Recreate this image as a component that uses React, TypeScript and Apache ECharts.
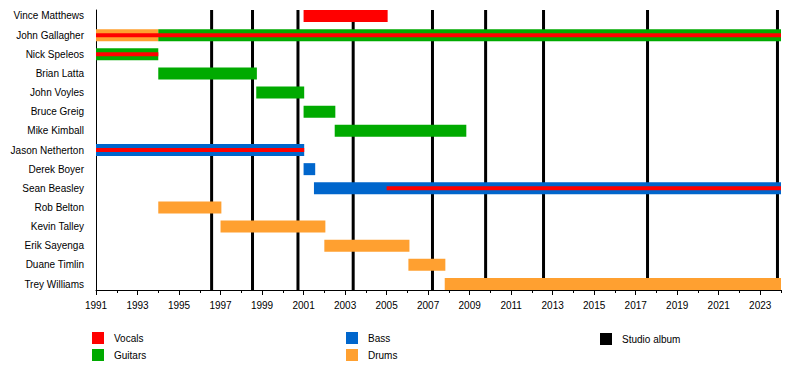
import React, { useEffect, useRef } from "react";
import * as echarts from "echarts";

const members = [
  "Vince Matthews",
  "John Gallagher",
  "Nick Speleos",
  "Brian Latta",
  "John Voyles",
  "Bruce Greig",
  "Mike Kimball",
  "Jason Netherton",
  "Derek Boyer",
  "Sean Beasley",
  "Rob Belton",
  "Kevin Talley",
  "Erik Sayenga",
  "Duane Timlin",
  "Trey Williams",
];

const roles = ["Vocals", "Guitars", "Bass", "Drums"];

const startYear = 1991;
const endYear = 2024;

// [member, role, start, end] — main (thick) bars
const mainBars: [string, string, number, number][] = [
  ["Vince Matthews", "Vocals", 2001.0, 2005.05],
  ["John Gallagher", "Drums", 1991.0, 1994.0],
  ["John Gallagher", "Guitars", 1994.0, 2024.0],
  ["Nick Speleos", "Guitars", 1991.0, 1994.0],
  ["Brian Latta", "Guitars", 1994.0, 1998.75],
  ["John Voyles", "Guitars", 1998.72, 2001.03],
  ["Bruce Greig", "Guitars", 2001.0, 2002.53],
  ["Mike Kimball", "Guitars", 2002.5, 2008.84],
  ["Jason Netherton", "Bass", 1991.0, 2001.03],
  ["Derek Boyer", "Bass", 2001.0, 2001.56],
  ["Sean Beasley", "Bass", 2001.5, 2024.0],
  ["Rob Belton", "Drums", 1994.0, 1997.04],
  ["Kevin Talley", "Drums", 1997.0, 2002.05],
  ["Erik Sayenga", "Drums", 2002.0, 2006.1],
  ["Duane Timlin", "Drums", 2006.05, 2007.83],
  ["Trey Williams", "Drums", 2007.8, 2024.0],
];

// [member, start, end] — secondary vocals (thin) lines
const vocalLines: [string, number, number][] = [
  ["John Gallagher", 1991.0, 2024.0],
  ["Nick Speleos", 1991.0, 1994.0],
  ["Jason Netherton", 1991.0, 2001.03],
  ["Sean Beasley", 2005.0, 2024.0],
];

const albumYears = [
  1996.57, 1998.54, 2000.73, 2003.39, 2007.21, 2009.77, 2012.56, 2017.57, 2023.83,
];

const roleColors: Record<string, string> = {
  Vocals: "#FF0000",
  Guitars: "#00AA00",
  Bass: "#0066CC",
  Drums: "#FFA030",
};

const FONT = "'Liberation Sans', Arial, sans-serif";
const Y_MIN = -0.3125;
const Y_MAX = members.length - 1 + 0.3125;

export default function App() {
  const ref = useRef<HTMLDivElement>(null);

  useEffect(() => {
    if (!ref.current) return;
    const chart = echarts.init(ref.current, null, { renderer: "svg" });

    const barData = mainBars.map(([m, r, s, e]) => [
      s,
      e,
      members.indexOf(m),
      roles.indexOf(r),
    ]);
    const vocalData = vocalLines.map(([m, s, e]) => [s, e, members.indexOf(m)]);

    const legendItems = [
      { label: "Vocals", color: roleColors.Vocals, x: 92, y: 332 },
      { label: "Guitars", color: roleColors.Guitars, x: 92, y: 349 },
      { label: "Bass", color: roleColors.Bass, x: 346, y: 332 },
      { label: "Drums", color: roleColors.Drums, x: 346, y: 349 },
      { label: "Studio album", color: "#000000", x: 600, y: 333 },
    ];

    const graphic: any[] = [];
    legendItems.forEach((it) => {
      graphic.push({
        type: "rect",
        left: it.x,
        top: it.y,
        shape: { width: 12, height: 12 },
        style: { fill: it.color },
      });
      graphic.push({
        type: "text",
        left: it.x + 22,
        top: it.y + 1,
        style: {
          text: it.label,
          fill: "#000",
          font: `10px ${FONT}`,
        },
      });
    });

    const plotGrid = { left: 96, right: 19, top: 10, height: 280 };
    const hiddenY = (gi: number) => ({
      gridIndex: gi,
      type: "value",
      show: false,
    });

    const option: any = {
      animation: false,
      backgroundColor: "#fff",
      textStyle: { fontFamily: FONT },
      grid: [
        { ...plotGrid },
        { left: 96, right: 19, top: 6.41, height: 287.2 },
        { ...plotGrid },
        { ...plotGrid },
      ],
      xAxis: [
        {
          gridIndex: 0,
          type: "value",
          position: "bottom",
          min: startYear,
          max: endYear,
          axisLine: { show: true, onZero: false, lineStyle: { color: "#000", width: 1 } },
          axisTick: { show: false },
          axisLabel: { show: false },
          splitLine: { show: false },
        },
        { gridIndex: 1, type: "value", show: false },
        {
          gridIndex: 2,
          type: "value",
          position: "bottom",
          min: 0,
          max: endYear - startYear,
          interval: 2,
          axisLine: { show: false, onZero: false },
          axisTick: { show: true, length: 5, lineStyle: { color: "#000" } },
          axisLabel: {
            show: true,
            formatter: (v: number) => String(startYear + v),
            showMaxLabel: false,
            margin: 10,
            fontSize: 10,
            color: "#000",
            fontFamily: FONT,
          },
          splitLine: { show: false },
        },
        {
          gridIndex: 3,
          type: "value",
          position: "bottom",
          min: 0,
          max: endYear - startYear,
          interval: 1,
          axisLine: { show: false, onZero: false },
          axisTick: { show: true, length: 3, lineStyle: { color: "#000" } },
          axisLabel: { show: false },
          splitLine: { show: false },
        },
      ],
      yAxis: [
        {
          gridIndex: 0,
          type: "value",
          position: "left",
          inverse: true,
          min: Y_MIN,
          max: Y_MAX,
          axisLine: { show: true, onZero: false, lineStyle: { color: "#000", width: 1 } },
          axisTick: { show: false },
          axisLabel: { show: false },
          splitLine: { show: false },
        },
        {
          gridIndex: 1,
          type: "category",
          position: "left",
          inverse: true,
          data: members,
          axisLine: { show: false },
          axisTick: { show: false },
          axisLabel: {
            margin: 12,
            fontSize: 10,
            color: "#000",
            fontFamily: FONT,
          },
          splitLine: { show: false },
        },
        hiddenY(2),
        hiddenY(3),
      ],
      series: [
        {
          type: "custom",
          name: "albums",
          xAxisIndex: 0,
          yAxisIndex: 0,
          data: albumYears.map((y) => [y, 0]),
          encode: { x: 0, y: 1 },
          renderItem: (params: any, api: any) => {
            const x = api.value(0);
            const p0 = api.coord([x, Y_MIN]);
            const p1 = api.coord([x, Y_MAX]);
            return {
              type: "line",
              shape: { x1: p0[0], y1: p0[1], x2: p1[0], y2: p1[1] },
              style: { stroke: "#000", lineWidth: 3 },
            };
          },
          z: 1,
        },
        {
          type: "custom",
          name: "bars",
          xAxisIndex: 0,
          yAxisIndex: 0,
          data: barData,
          encode: { x: [0, 1], y: 2 },
          renderItem: (params: any, api: any) => {
            const s = api.value(0);
            const e = api.value(1);
            const r = api.value(2);
            const role = roles[api.value(3)];
            const p0 = api.coord([s, r]);
            const p1 = api.coord([e, r]);
            const h = 12;
            return {
              type: "rect",
              shape: { x: p0[0], y: p0[1] - h / 2, width: p1[0] - p0[0], height: h },
              style: { fill: roleColors[role] },
            };
          },
          z: 2,
        },
        {
          type: "custom",
          name: "vocals",
          xAxisIndex: 0,
          yAxisIndex: 0,
          data: vocalData,
          encode: { x: [0, 1], y: 2 },
          renderItem: (params: any, api: any) => {
            const s = api.value(0);
            const e = api.value(1);
            const r = api.value(2);
            const p0 = api.coord([s, r]);
            const p1 = api.coord([e, r]);
            const h = 4;
            return {
              type: "rect",
              shape: { x: p0[0], y: p0[1] - h / 2, width: p1[0] - p0[0], height: h },
              style: { fill: roleColors.Vocals },
            };
          },
          z: 3,
        },
      ],
      graphic,
    };

    chart.setOption(option);
    return () => {
      chart.dispose();
    };
  }, []);

  return (
    <div
      ref={ref}
      style={{ position: "absolute", left: 0, top: 0, width: 800, height: 370 }}
    />
  );
}
